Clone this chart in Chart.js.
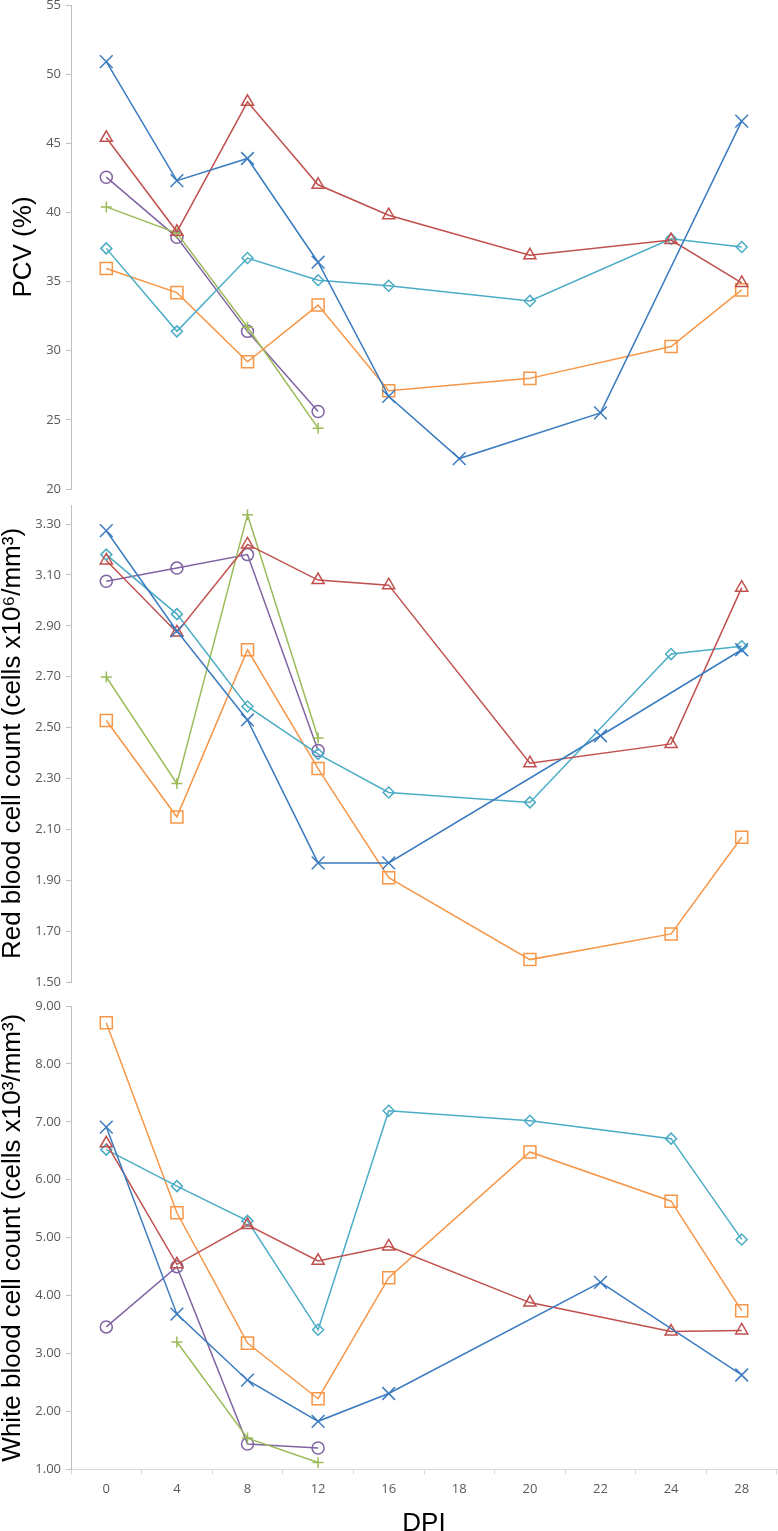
<!DOCTYPE html>
<html>
<head>
<meta charset="utf-8">
<script src="https://cdn.jsdelivr.net/npm/chart.js@4.4.1/dist/chart.umd.min.js"></script>
<style>
  html, body { margin: 0; padding: 0; background: #fff; overflow: hidden; }
  #wrap { position: relative; width: 778px; height: 1531px; overflow: hidden; }
  canvas { position: absolute; left: 0; }
</style>
</head>
<body>
<div id="wrap">
  <canvas id="pcv" width="778" height="510" style="top:-8px"></canvas>
  <canvas id="rbc" width="778" height="503" style="top:492px"></canvas>
  <canvas id="wbc" width="778" height="544" style="top:993px"></canvas>
</div>
<script>
// DPI categories
var dpi = ['0', '4', '8', '12', '16', '18', '20', '22', '24', '28'];

// PCV (%)
var pcvCross    = [50.9, 42.3, 43.9, 36.4, 26.7, 22.2, null, 25.5, null, 46.6];
var pcvTriangle = [45.4, 38.6, 48.0, 42.0, 39.8, null, 36.9, null, 38.0, 34.9];
var pcvDiamond  = [37.4, 31.4, 36.7, 35.1, 34.7, null, 33.6, null, 38.1, 37.5];
var pcvSquare   = [35.95, 34.2, 29.2, 33.3, 27.1, null, 28.0, null, 30.3, 34.4];
var pcvPlus     = [40.4, 38.5, 31.7, 24.4, null, null, null, null, null, null];
var pcvCircle   = [42.55, 38.2, 31.4, 25.6, null, null, null, null, null, null];
var pcvTicks = [20, 25, 30, 35, 40, 45, 50, 55];

// Red blood cell count
var rbcCross    = [3.274, 2.88, 2.53, 1.968, 1.968, null, null, 2.468, null, 2.806];
var rbcTriangle = [3.157, 2.874, 3.22, 3.08, 3.06, null, 2.36, null, 2.436, 3.05];
var rbcDiamond  = [3.18, 2.946, 2.583, 2.396, 2.245, null, 2.206, null, 2.789, 2.82];
var rbcSquare   = [2.528, 2.149, 2.806, 2.339, 1.91, null, 1.588, null, 1.689, 2.069];
var rbcPlus     = [2.699, 2.28, 3.337, 2.459, null, null, null, null, null, null];
var rbcCircle   = [3.075, 3.127, 3.18, 2.41, null, null, null, null, null, null];
var rbcTicks = [1.5, 1.7, 1.9, 2.1, 2.3, 2.5, 2.7, 2.9, 3.1, 3.3];

// White blood cell count
var wbcCross    = [6.91, 3.68, 2.54, 1.83, 2.31, null, null, 4.23, null, 2.63];
var wbcTriangle = [6.63, 4.54, 5.22, 4.60, 4.85, null, 3.88, null, 3.38, 3.40];
var wbcDiamond  = [6.52, 5.89, 5.29, 3.41, 7.19, null, 7.02, null, 6.71, 4.97];
var wbcSquare   = [8.71, 5.43, 3.18, 2.22, 4.31, null, 6.48, null, 5.63, 3.74];
var wbcPlus     = [null, 3.20, 1.54, 1.12, null, null, null, null, null, null];
var wbcCircle   = [3.46, 4.50, 1.44, 1.37, null, null, null, null, null, null];
var wbcTicks = [1, 2, 3, 4, 5, 6, 7, 8, 9];

var tickFont = { family: 'Open Sans', size: 13 };
var titleFont = { family: 'Liberation Sans', size: 26, lineHeight: 1 };

function series(data, color, style, radius) {
  return {
    data: data,
    borderColor: color,
    backgroundColor: 'rgba(0,0,0,0)',
    borderWidth: 1.5,
    pointStyle: style,
    pointRadius: radius,
    pointHoverRadius: radius,
    pointBorderWidth: 1.5,
    pointBorderColor: color,
    pointBackgroundColor: 'rgba(0,0,0,0)',
    tension: 0,
    spanGaps: true,
    clip: false
  };
}

function makeChart(id, sets, ticks, min, max, dec, title, titlePad, bottom) {
  var xAxis = bottom ? {
    offset: true,
    grid: { offset: true, drawOnChartArea: false, tickLength: 5, color: '#d9d9d9' },
    border: { color: '#d9d9d9' },
    ticks: { padding: 7, color: '#595959', font: tickFont, maxRotation: 0, autoSkip: false },
    title: { display: true, text: 'DPI', color: '#000', font: titleFont, padding: { top: 7, bottom: 0 } }
  } : { display: false, offset: true };

  return new Chart(document.getElementById(id), {
    type: 'line',
    data: {
      labels: dpi,
      datasets: [
        series(sets[0], '#3b7bbf', 'crossRot', 9),
        series(sets[1], '#c0504d', 'triangle', 7),
        series(sets[2], '#4bacc6', 'rectRot', 5.5),
        series(sets[3], '#f79646', 'rect', 8.5),
        series(sets[4], '#9bbb59', 'cross', 5.5),
        series(sets[5], '#8064a2', 'circle', 6)
      ]
    },
    options: {
      responsive: false,
      animation: false,
      layout: { autoPadding: false, padding: { top: 13, bottom: bottom ? 0 : 13, left: 0, right: 1 } },
      plugins: { legend: { display: false }, tooltip: { enabled: false } },
      scales: {
        x: xAxis,
        y: {
          min: min,
          max: max,
          afterBuildTicks: function(s) { s.ticks = ticks.map(function(v) { return { value: v }; }); },
          afterFit: function(s) { s.width = 71; },
          grid: { drawOnChartArea: false, tickLength: 5, color: '#bfbfbf' },
          border: { color: '#bfbfbf' },
          ticks: {
            padding: 5, color: '#595959', font: tickFont,
            callback: function(v) { return Number(v).toFixed(dec); }
          },
          title: { display: true, text: title, color: '#000', font: titleFont, padding: { top: titlePad, bottom: 0 } }
        }
      }
    }
  });
}

makeChart('pcv', [pcvCross, pcvTriangle, pcvDiamond, pcvSquare, pcvPlus, pcvCircle],
  pcvTicks, 20, 55, 0, 'PCV (%)', 11, false);
makeChart('rbc', [rbcCross, rbcTriangle, rbcDiamond, rbcSquare, rbcPlus, rbcCircle],
  rbcTicks, 1.5, 3.375, 2, 'Red blood cell count (cells x10\u2076/mm\u00b3)', 0, false);
makeChart('wbc', [wbcCross, wbcTriangle, wbcDiamond, wbcSquare, wbcPlus, wbcCircle],
  wbcTicks, 1, 9, 2, 'White blood cell count (cells x10\u00b3/mm\u00b3)', 0, true);
</script>
</body>
</html>
